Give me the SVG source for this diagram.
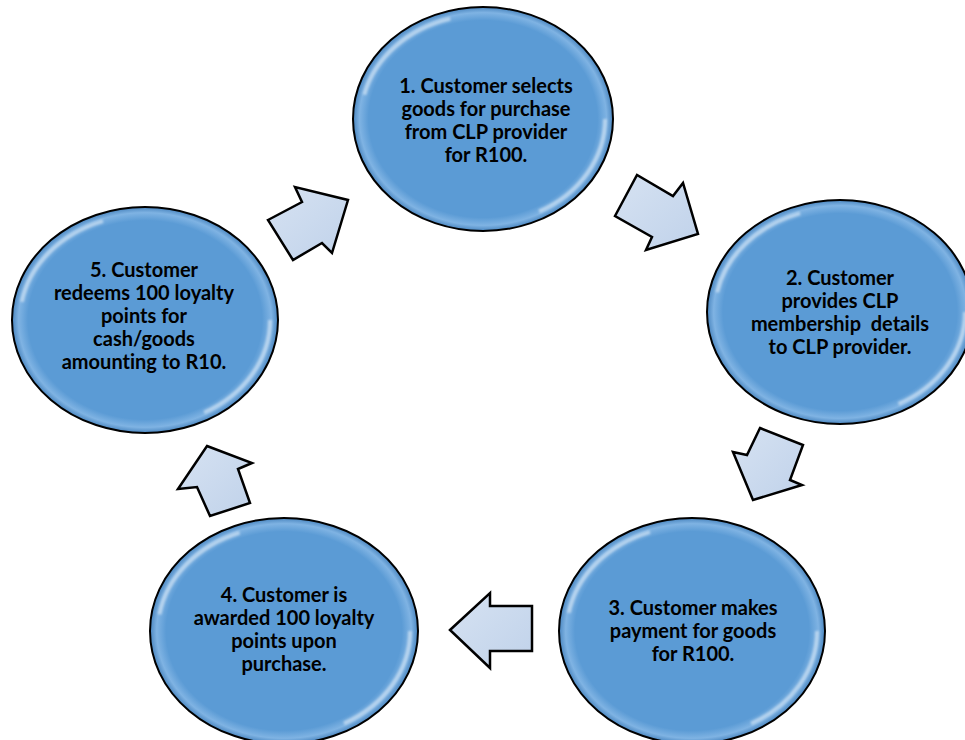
<svg xmlns="http://www.w3.org/2000/svg" width="965" height="740" viewBox="0 0 965 740">
  <defs>
    <style>
      .ell { fill: url(#ballFill); stroke: #000; stroke-width: 2; }
      .rim { fill: none; stroke: #ffffff; stroke-opacity: 0.45; stroke-width: 4; filter: url(#soft); }
      .lbl { font-family: Lato, "Liberation Sans", sans-serif; font-weight: bold; font-size: 20px; fill: #000; text-anchor: middle; font-variant-ligatures: none; }
      .arr { fill: url(#arrowFill); stroke: #000; stroke-width: 2.5; stroke-linejoin: miter; }
      .gloss { fill: none; stroke: #ffffff; stroke-opacity: 0.8; stroke-width: 2.5; stroke-linecap: round; filter: url(#soft); }
    </style>
    <radialGradient id="ballFill" cx="50%" cy="50%" r="50%">
      <stop offset="0" stop-color="#5b9bd5"/>
      <stop offset="0.88" stop-color="#5b9bd5"/>
      <stop offset="0.95" stop-color="#7fb3e3"/>
      <stop offset="1" stop-color="#4a86c0"/>
    </radialGradient>
    <linearGradient id="arrowFill" x1="0" y1="0" x2="1" y2="1">
      <stop offset="0" stop-color="#d6e2f2"/>
      <stop offset="1" stop-color="#c0d2ea"/>
    </linearGradient>
    <filter id="soft" x="-10%" y="-10%" width="120%" height="120%">
      <feGaussianBlur stdDeviation="1.2"/>
    </filter>
  </defs>

  <rect width="965" height="740" fill="#ffffff"/>

  <!-- connectors: block arrows between steps -->
  <g id="connectors">
    <polygon class="arr" points="268,220 302,202 295,187 348,200 332,253 322,243 293,260"/>
    <polygon class="arr" points="615,216 637,175 673,196 683,183 698,234 646,250 652,237"/>
    <polygon class="arr" points="760,428 803,445 790,480 802,485 753,500 733,452 747,455"/>
    <polygon class="arr" points="450,630 490,593 490,606 532,606 532,651 490,651 490,668"/>
    <polygon class="arr" points="207,446 252,463 238,469 250,503 210,516 197,487 178,489"/>
  </g>

  <g id="step1">
    <ellipse class="ell" cx="483" cy="119" rx="130" ry="112"/>
    <ellipse class="rim" cx="483" cy="119" rx="122" ry="104" stroke-dasharray="120 260 120 300"/>
    <text class="lbl" x="486" y="93">1. Customer selects</text>
    <text class="lbl" x="486" y="116">goods for purchase</text>
    <text class="lbl" x="486" y="139">from CLP provider</text>
    <text class="lbl" x="486" y="162">for R100.</text>
  </g>

  <g id="step2">
    <ellipse class="ell" cx="840" cy="312" rx="133" ry="112"/>
    <ellipse class="rim" cx="840" cy="312" rx="125" ry="104" stroke-dasharray="120 260 120 300"/>
    <text class="lbl" x="840" y="285">2. Customer</text>
    <text class="lbl" x="840" y="308">provides CLP</text>
    <text class="lbl" x="840" y="331" xml:space="preserve">membership  details</text>
    <text class="lbl" x="840" y="354">to CLP provider.</text>
  </g>

  <g id="step3">
    <ellipse class="ell" cx="692" cy="631" rx="133" ry="113"/>
    <ellipse class="rim" cx="692" cy="631" rx="125" ry="105" stroke-dasharray="120 260 120 300"/>
    <text class="lbl" x="693" y="615">3. Customer makes</text>
    <text class="lbl" x="693" y="638">payment for goods</text>
    <text class="lbl" x="693" y="661">for R100.</text>
  </g>

  <g id="step4">
    <ellipse class="ell" cx="284" cy="631" rx="134" ry="113"/>
    <ellipse class="rim" cx="284" cy="631" rx="126" ry="105" stroke-dasharray="120 260 120 300"/>
    <text class="lbl" x="284" y="602">4. Customer is</text>
    <text class="lbl" x="284" y="625">awarded 100 loyalty</text>
    <text class="lbl" x="284" y="648">points upon</text>
    <text class="lbl" x="284" y="671">purchase.</text>
  </g>

  <g id="step5">
    <ellipse class="ell" cx="145" cy="320" rx="133" ry="113"/>
    <ellipse class="rim" cx="145" cy="320" rx="125" ry="105" stroke-dasharray="120 260 120 300"/>
    <text class="lbl" x="144" y="277">5. Customer</text>
    <text class="lbl" x="144" y="300">redeems 100 loyalty</text>
    <text class="lbl" x="144" y="323">points for</text>
    <text class="lbl" x="144" y="346">cash/goods</text>
    <text class="lbl" x="144" y="369">amounting to R10.</text>
  </g>
</svg>
